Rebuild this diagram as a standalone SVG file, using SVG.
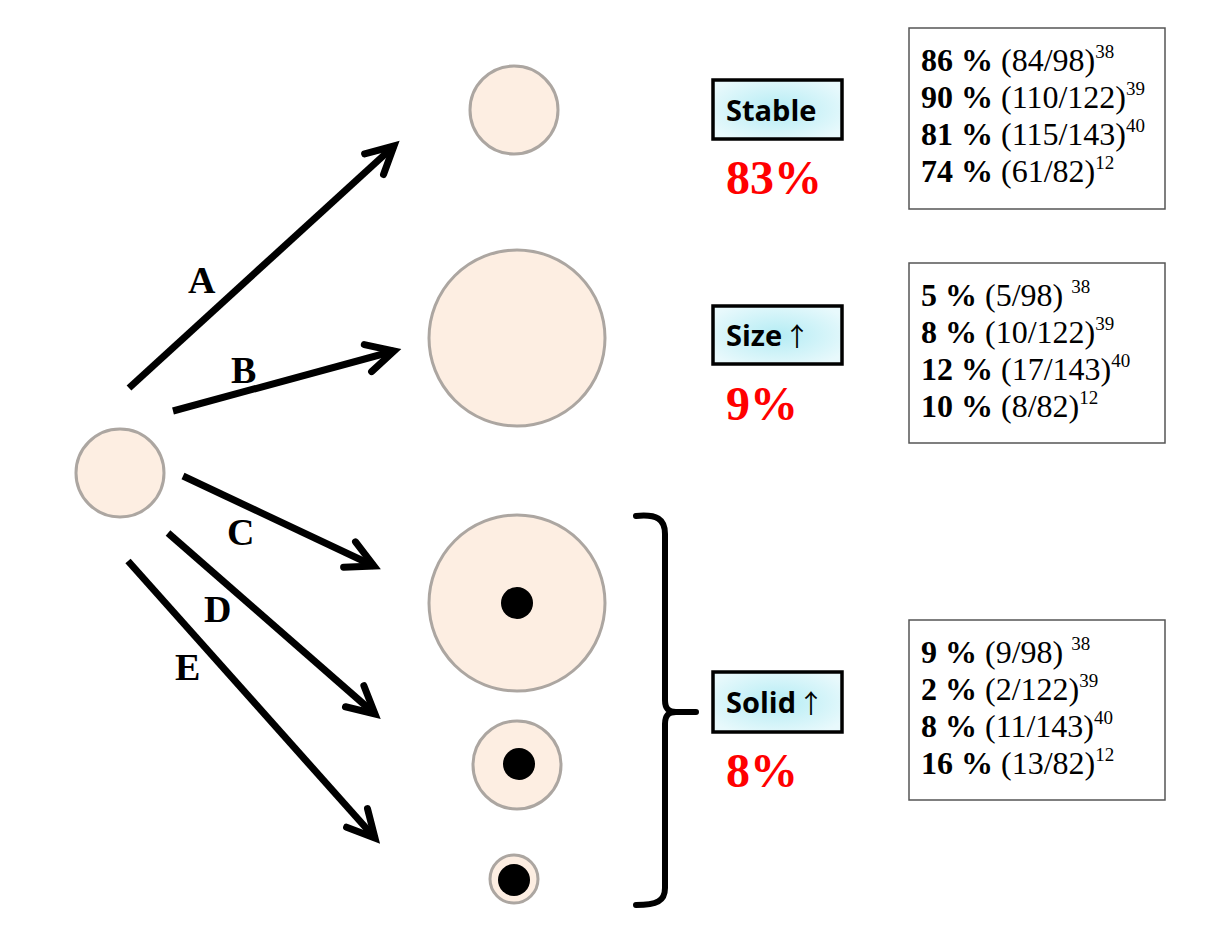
<svg xmlns="http://www.w3.org/2000/svg" width="1214" height="928" viewBox="0 0 1214 928">
<style>
.cell{fill:#fdeee2;stroke:#aca6a1;stroke-width:3}
.dot{fill:#000}
.arr{stroke:#000;stroke-width:7;fill:none;marker-end:url(#ah)}
.lbl{font-family:"Liberation Serif",serif;font-weight:bold;font-size:38px;fill:#000}
.tag{fill:url(#cyan);stroke:#000;stroke-width:3.5}
.tagt{font-family:"Open Sans","Liberation Sans",sans-serif;font-weight:bold;font-size:29px;fill:#000}
.up{font-family:"Noto Sans CJK JP","DejaVu Sans",sans-serif;font-weight:normal;font-size:26px}
.pct{font-family:"Liberation Serif",serif;font-weight:bold;font-size:48px;fill:#ff0000}
.box{fill:#fff;stroke:#555;stroke-width:1.5}
.dt{font-family:"Liberation Serif",serif;font-size:32px;fill:#000}
.b{font-weight:bold}
.sup{font-size:19px}
.brace{fill:none;stroke:#000;stroke-width:6;stroke-linecap:round;stroke-linejoin:round}
</style>
<defs>
<marker id="ah" viewBox="-40 -25 50 50" refX="0" refY="0" markerWidth="50" markerHeight="50" markerUnits="userSpaceOnUse" orient="auto">
<path d="M-27,-14 L0,0 L-27,14" fill="none" stroke="#000" stroke-width="7" stroke-linecap="round" stroke-linejoin="miter"/>
</marker>
<radialGradient id="cyan" cx="50%" cy="50%" r="60%">
<stop offset="0" stop-color="#b4ecf4"/>
<stop offset="1" stop-color="#e8f9fc"/>
</radialGradient>
</defs>

<g id="connectors">
<line class="arr" x1="129" y1="388" x2="394" y2="146"/>
<line class="arr" x1="173" y1="411" x2="394" y2="351"/>
<line class="arr" x1="183" y1="476" x2="374" y2="566"/>
<line class="arr" x1="168" y1="533" x2="375" y2="714"/>
<line class="arr" x1="128" y1="561" x2="375" y2="838"/>
<text class="lbl" x="188" y="293">A</text>
<text class="lbl" x="231" y="383">B</text>
<text class="lbl" x="227" y="545">C</text>
<text class="lbl" x="204" y="622">D</text>
<text class="lbl" x="175" y="680">E</text>
</g>

<g id="origin"><circle class="cell" cx="120" cy="473" r="44"/></g>
<g id="stable-cell"><circle class="cell" cx="514" cy="110" r="44"/></g>
<g id="size-cell"><circle class="cell" cx="517" cy="338" r="88"/></g>
<g id="solid-cell-1"><circle class="cell" cx="517" cy="603" r="88"/><circle class="dot" cx="517" cy="603" r="16"/></g>
<g id="solid-cell-2"><circle class="cell" cx="517" cy="765" r="44"/><circle class="dot" cx="519" cy="764" r="16"/></g>
<g id="solid-cell-3"><circle class="cell" cx="514" cy="879" r="24"/><circle class="dot" cx="514" cy="880" r="16"/></g>

<g id="brace">
<path class="brace" d="M636,516 C657,514 665,519 665,534 V700 C665,708 668,712 676,712 H696 M676,712 C668,712 665,716 665,724 V888 C665,901 657,905 636,905"/>
</g>

<g id="stable-tag">
<rect class="tag" x="713" y="80" width="129" height="59"/>
<text class="tagt" x="726" y="121">Stable</text>
<text class="pct" x="726" y="194">83%</text>
</g>
<g id="size-tag">
<rect class="tag" x="713" y="306" width="129" height="58"/>
<text class="tagt" x="726" y="346">Size<tspan class="up" dx="2">↑</tspan></text>
<text class="pct" x="726" y="420">9%</text>
</g>
<g id="solid-tag">
<rect class="tag" x="713" y="672" width="129" height="60"/>
<text class="tagt" x="726" y="713">Solid<tspan class="up" dx="2">↑</tspan></text>
<text class="pct" x="726" y="787">8%</text>
</g>

<g id="stable-data">
<rect class="box" x="909" y="28" width="256" height="181"/>
<text class="dt" x="921" y="71"><tspan class="b">86 %</tspan> (84/98)<tspan class="sup" dy="-13">38</tspan></text>
<text class="dt" x="921" y="108"><tspan class="b">90 %</tspan> (110/122)<tspan class="sup" dy="-13">39</tspan></text>
<text class="dt" x="921" y="145"><tspan class="b">81 %</tspan> (115/143)<tspan class="sup" dy="-13">40</tspan></text>
<text class="dt" x="921" y="182"><tspan class="b">74 %</tspan> (61/82)<tspan class="sup" dy="-13">12</tspan></text>
</g>
<g id="size-data">
<rect class="box" x="909" y="263" width="256" height="180"/>
<text class="dt" x="921" y="306"><tspan class="b">5 %</tspan> (5/98) <tspan class="sup" dy="-13">38</tspan></text>
<text class="dt" x="921" y="343"><tspan class="b">8 %</tspan> (10/122)<tspan class="sup" dy="-13">39</tspan></text>
<text class="dt" x="921" y="380"><tspan class="b">12 %</tspan> (17/143)<tspan class="sup" dy="-13">40</tspan></text>
<text class="dt" x="921" y="417"><tspan class="b">10 %</tspan> (8/82)<tspan class="sup" dy="-13">12</tspan></text>
</g>
<g id="solid-data">
<rect class="box" x="909" y="620" width="256" height="180"/>
<text class="dt" x="921" y="663"><tspan class="b">9 %</tspan> (9/98) <tspan class="sup" dy="-13">38</tspan></text>
<text class="dt" x="921" y="700"><tspan class="b">2 %</tspan> (2/122)<tspan class="sup" dy="-13">39</tspan></text>
<text class="dt" x="921" y="737"><tspan class="b">8 %</tspan> (11/143)<tspan class="sup" dy="-13">40</tspan></text>
<text class="dt" x="921" y="774"><tspan class="b">16 %</tspan> (13/82)<tspan class="sup" dy="-13">12</tspan></text>
</g>
</svg>
